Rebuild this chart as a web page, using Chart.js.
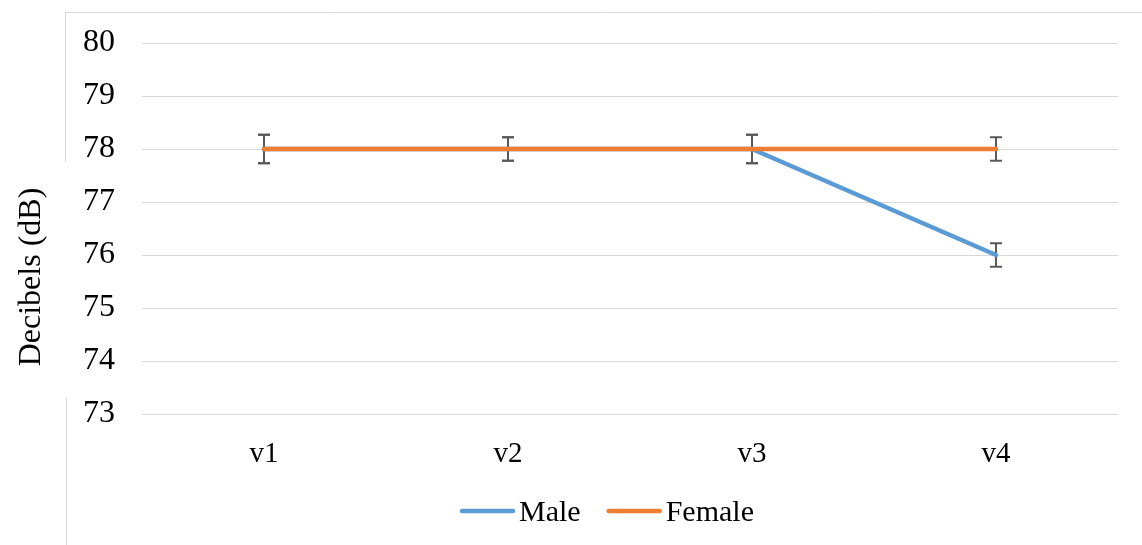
<!DOCTYPE html>
<html>
<head>
<meta charset="utf-8">
<script src="https://cdn.jsdelivr.net/npm/chart.js@4.4.1/dist/chart.umd.min.js"></script>
<style>
  html, body { margin: 0; padding: 0; background: #ffffff; }
  #wrap { width: 1142px; height: 545px; }
</style>
</head>
<body>
<div id="wrap"><canvas id="chart" width="1142" height="545"></canvas></div>
<script>
// Visits and mean sound level per group
const categories = ['v1', 'v2', 'v3', 'v4'];
const maleValues = [78, 78, 78, 76];
const femaleValues = [78, 78, 78, 78];
// Half-length of each error bar, in dB
const maleErrors = [0.27, 0.22, 0.27, 0.22];
const femaleErrors = [0.27, 0.22, 0.27, 0.22];
const yTicks = [73, 74, 75, 76, 77, 78, 79, 80];
const yTitle = 'Decibels (dB)';

const SERIF = '"Liberation Serif", "Times New Roman", serif';

// Frame lines around the chart block
const framePlugin = {
  id: 'frame',
  beforeDraw(chart) {
    const ctx = chart.ctx;
    ctx.save();
    ctx.strokeStyle = '#d9d9d9';
    ctx.lineWidth = 1;
    ctx.beginPath();
    ctx.moveTo(65, 12.5); ctx.lineTo(1142, 12.5);
    ctx.moveTo(65.5, 12); ctx.lineTo(65.5, 162);
    ctx.moveTo(66.5, 397); ctx.lineTo(66.5, 545);
    ctx.stroke();
    ctx.restore();
  }
};

// Vertical error bars with caps, drawn under the lines
const errorBarPlugin = {
  id: 'errorBars',
  beforeDatasetsDraw(chart) {
    const ctx = chart.ctx;
    const x = chart.scales.x, y = chart.scales.y;
    const sets = [[maleValues, maleErrors], [femaleValues, femaleErrors]];
    ctx.save();
    ctx.strokeStyle = '#595959';
    ctx.lineWidth = 2;
    const cap = 6;
    sets.forEach(([vals, errs]) => {
      vals.forEach((v, i) => {
        const px = x.getPixelForValue(i);
        const top = y.getPixelForValue(v + errs[i]);
        const bot = y.getPixelForValue(v - errs[i]);
        ctx.beginPath();
        ctx.moveTo(px, top); ctx.lineTo(px, bot);
        ctx.moveTo(px - cap, top); ctx.lineTo(px + cap, top);
        ctx.moveTo(px - cap, bot); ctx.lineTo(px + cap, bot);
        ctx.stroke();
      });
    });
    ctx.restore();
  }
};

// Rotated value-axis title and the line-sample legend under the plot
const annotationPlugin = {
  id: 'annotations',
  afterDraw(chart) {
    const ctx = chart.ctx;
    ctx.save();
    ctx.fillStyle = '#000000';

    // axis title
    ctx.font = '32px ' + SERIF;
    ctx.translate(32, 277);
    ctx.rotate(-Math.PI / 2);
    ctx.textAlign = 'center';
    ctx.textBaseline = 'middle';
    ctx.fillText(yTitle, 0, 0);
    ctx.setTransform(1, 0, 0, 1, 0, 0);

    // legend
    ctx.font = '30px ' + SERIF;
    ctx.textAlign = 'left';
    ctx.textBaseline = 'alphabetic';
    const sample = 55, gap = 4, itemGap = 26;
    const items = chart.data.datasets.map(ds => ({
      label: ds.label, color: ds.borderColor, width: ds.borderWidth,
      textW: ctx.measureText(ds.label).width
    }));
    const total = items.reduce((s, it) => s + sample + gap + it.textW, 0) + itemGap * (items.length - 1);
    let cx = 607 - total / 2;
    const lineY = 511, textY = 521;
    items.forEach(it => {
      ctx.strokeStyle = it.color;
      ctx.lineWidth = it.width;
      ctx.lineCap = 'round';
      ctx.beginPath();
      ctx.moveTo(cx + 2, lineY); ctx.lineTo(cx + sample - 2, lineY);
      ctx.stroke();
      ctx.fillText(it.label, cx + sample + gap, textY);
      cx += sample + gap + it.textW + itemGap;
    });
    ctx.restore();
  }
};

new Chart(document.getElementById('chart'), {
  type: 'line',
  data: {
    labels: categories,
    datasets: [
      {
        label: 'Male',
        data: maleValues,
        borderColor: '#5B9BD5',
        backgroundColor: '#5B9BD5',
        borderWidth: 4.5,
        borderCapStyle: 'round',
        borderJoinStyle: 'round',
        pointRadius: 0,
        order: 1
      },
      {
        label: 'Female',
        data: femaleValues,
        borderColor: '#ED7D31',
        backgroundColor: '#ED7D31',
        borderWidth: 4.5,
        borderCapStyle: 'round',
        borderJoinStyle: 'round',
        pointRadius: 0,
        order: 0
      }
    ]
  },
  options: {
    responsive: false,
    animation: false,
    devicePixelRatio: 1,
    layout: { padding: { top: 43, left: 0, right: 24, bottom: 51 } },
    plugins: {
      tooltip: { enabled: false },
      legend: { display: false }
    },
    scales: {
      x: {
        offset: true,
        grid: { display: false, drawTicks: false },
        border: { display: false },
        ticks: { color: '#000000', padding: 23, font: { family: SERIF, size: 29 } },
        afterFit(scale) { scale.height = 80; }
      },
      y: {
        min: 73,
        max: 80,
        afterBuildTicks(scale) { scale.ticks = yTicks.map(v => ({ value: v })); },
        grid: { color: '#d9d9d9', lineWidth: 1, drawTicks: false },
        border: { display: false },
        ticks: { color: '#000000', padding: 27, font: { family: SERIF, size: 32 } },
        afterFit(scale) {
          scale.width = 142;
          scale.paddingTop = 0;
          scale.paddingBottom = 0;
        }
      }
    }
  },
  plugins: [framePlugin, errorBarPlugin, annotationPlugin]
});
</script>
</body>
</html>
